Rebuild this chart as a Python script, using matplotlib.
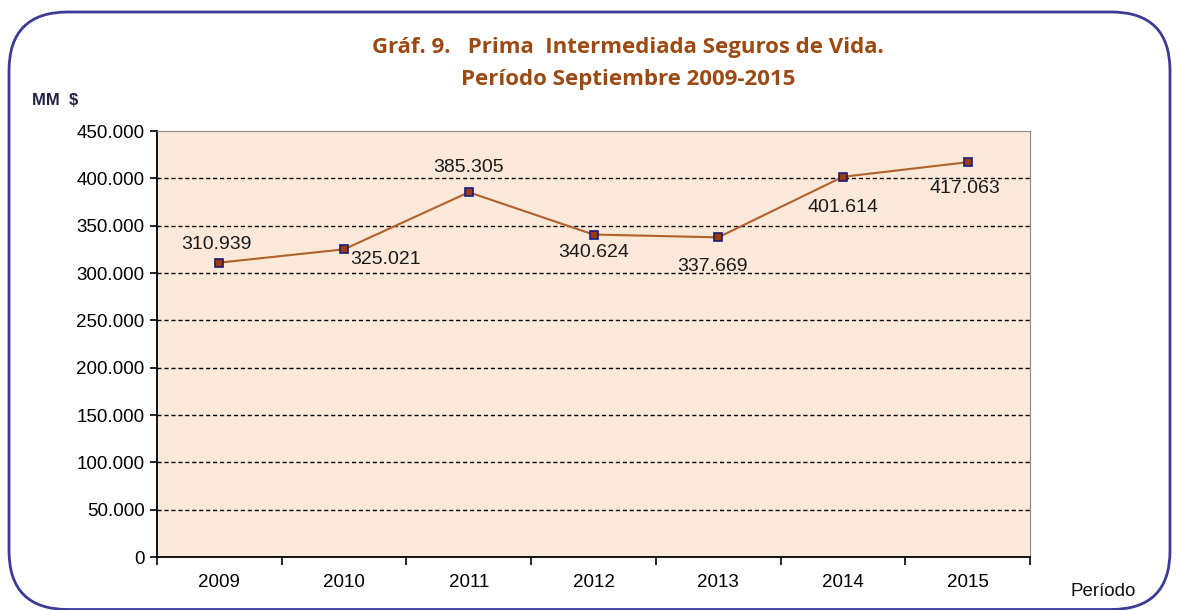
import matplotlib
matplotlib.use('Agg')
import matplotlib.pyplot as plt
from matplotlib.patches import FancyBboxPatch
from matplotlib.ticker import FuncFormatter

years = ['2009', '2010', '2011', '2012', '2013', '2014', '2015']
prima = [310939, 325021, 385305, 340624, 337669, 401614, 417063]
labels = ['310.939', '325.021', '385.305', '340.624', '337.669', '401.614', '417.063']
# label offsets in points (dx, dy)
offsets = [(-2, 13), (30, -7), (0, 18), (0, -13), (-4, -21), (0, -22), (-2, -19)]

plt.rcParams['font.family'] = ['Liberation Sans', 'DejaVu Sans']

fig = plt.figure(figsize=(11.78, 6.10), dpi=100)
ax = fig.add_axes([157 / 1178, 1 - 557 / 610, (1030 - 157) / 1178, (557 - 131) / 610])

# rounded frame around the whole chart (bottom edge falls just at the image border)
frame = FancyBboxPatch((9 / 1178, 0.5 / 610), (1170 - 9) / 1178, (598 - 0.5) / 610,
                       boxstyle='round,pad=0,rounding_size=0.05', transform=fig.transFigure,
                       facecolor='none', edgecolor='#3c3c98', linewidth=2, zorder=0,
                       mutation_aspect=1178 / 610)
fig.patches.append(frame)

x = list(range(len(years)))
ax.set_facecolor('#fce9da')
ax.plot(x, prima, color='#b0622a', linewidth=1.5, marker='s', markersize=6,
        markerfacecolor='#9a3b08', markeredgecolor='#1a1a80', markeredgewidth=1.2, zorder=3)

for xi, v, lab, (dx, dy) in zip(x, prima, labels, offsets):
    ax.annotate(lab, (xi, v), xytext=(dx, dy), textcoords='offset points',
                ha='center', va='center', fontsize=14, color='#1a1a1a', zorder=4)

ax.set_xlim(-0.5, len(years) - 0.5)
ax.set_ylim(0, 450000)
ax.set_yticks(range(0, 450001, 50000))
ax.yaxis.set_major_formatter(FuncFormatter(lambda v, p: '0' if v == 0 else f'{int(v):,}'.replace(',', '.')))
ax.set_xticks(x)
ax.set_xticklabels(years)
ax.set_xticks([i - 0.5 for i in range(len(years) + 1)], minor=True)
ax.tick_params(axis='x', which='major', length=0, pad=12, labelsize=13.5)
ax.tick_params(axis='x', which='minor', length=6, width=1.2, direction='out')
ax.tick_params(axis='y', length=5, width=1.2, direction='out', labelsize=13.5, pad=4)

for y in range(50000, 450000, 50000):
    ax.axhline(y, color='black', linestyle=(0, (3, 2)), linewidth=1, zorder=1)

ax.spines['left'].set_color('black')
ax.spines['bottom'].set_color('black')
ax.spines['left'].set_linewidth(1.3)
ax.spines['bottom'].set_linewidth(1.3)
ax.spines['top'].set_color('#888888')
ax.spines['right'].set_color('#888888')

title_kw = dict(ha='center', va='center', color='#9c4a12', fontsize=16, fontweight='bold',
                family=['Open Sans', 'DejaVu Sans'], transform=fig.transFigure)
fig.text(628 / 1178, 1 - 48 / 610, 'Gráf. 9.   Prima  Intermediada Seguros de Vida.', **title_kw)
fig.text(628 / 1178, 1 - 79 / 610, 'Período Septiembre 2009-2015', **title_kw)

fig.text(32 / 1178, 1 - 101 / 610, 'MM  $', fontsize=12, fontweight='bold', color='#222244',
         ha='left', va='center')
fig.text(1071 / 1178, 1 - 591 / 610, 'Período', fontsize=13.5, color='#111111',
         ha='left', va='center')

fig.savefig('out.png', dpi=100)
